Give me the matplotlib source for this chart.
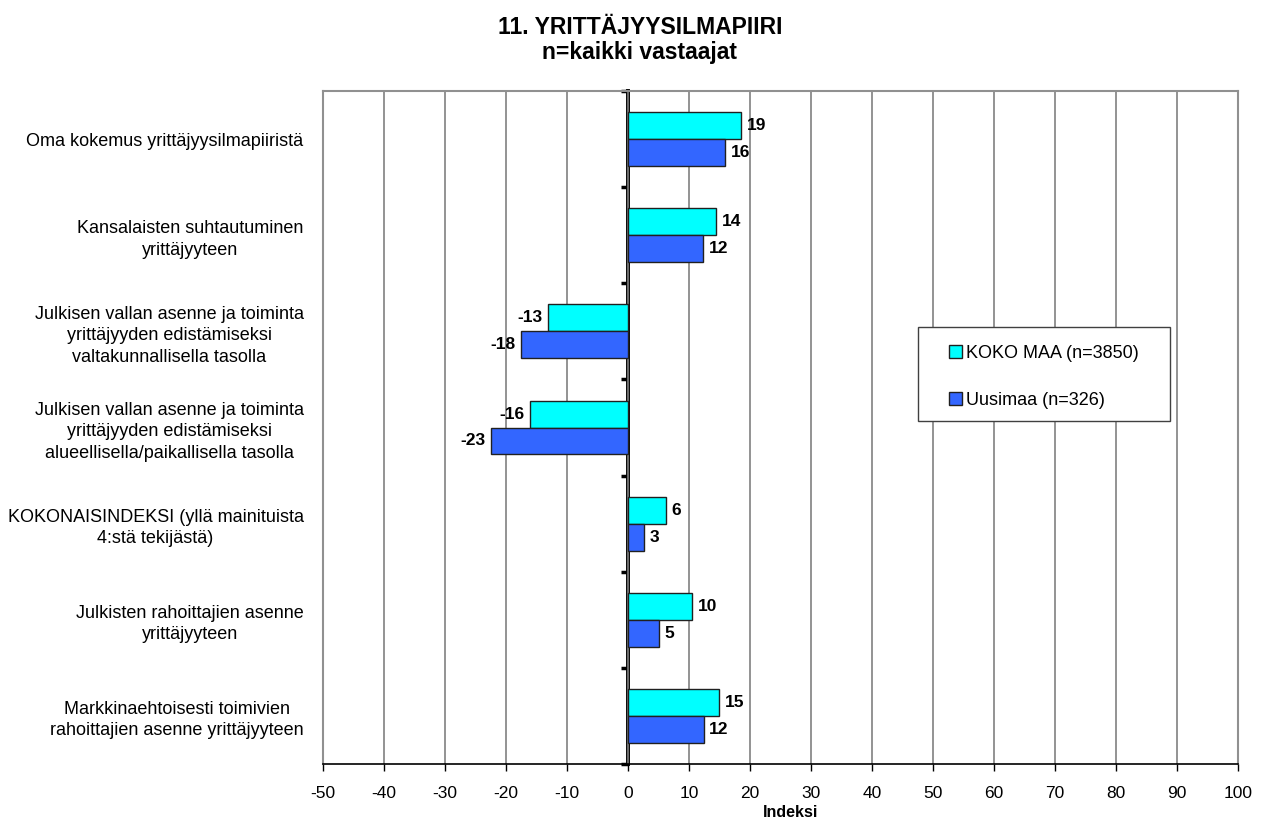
import matplotlib.pyplot as plt
import matplotlib.patches as mpatches
import numpy as np

plt.rcParams['font.family'] = ['Liberation Sans', 'DejaVu Sans']
plt.rcParams['axes.unicode_minus'] = False

categories = [
    "Oma kokemus yrittäjyysilmapiiristä",
    "Kansalaisten suhtautuminen\nyrittäjyyteen",
    "Julkisen vallan asenne ja toiminta\nyrittäjyyden edistämiseksi\nvaltakunnallisella tasolla",
    "Julkisen vallan asenne ja toiminta\nyrittäjyyden edistämiseksi\nalueellisella/paikallisella tasolla",
    "KOKONAISINDEKSI (yllä mainituista\n4:stä tekijästä)",
    "Julkisten rahoittajien asenne\nyrittäjyyteen",
    "Markkinaehtoisesti toimivien\nrahoittajien asenne yrittäjyyteen",
]
koko_maa = [18.6, 14.4, -13.1, -16.1, 6.2, 10.5, 14.9]
uusimaa = [15.9, 12.3, -17.5, -22.4, 2.6, 5.1, 12.4]
koko_labels = ["19", "14", "-13", "-16", "6", "10", "15"]
uusi_labels = ["16", "12", "-18", "-23", "3", "5", "12"]
series_names = ["KOKO MAA (n=3850)", "Uusimaa (n=326)"]

W, H = 1267, 821
fig = plt.figure(figsize=(W / 100, H / 100), dpi=100)
ax = fig.add_axes([323 / W, 1 - 764 / H, (1238 - 323) / W, (764 - 91) / H])

y = np.arange(len(categories))
h = 0.28
b1 = ax.barh(y - h / 2, koko_maa, height=h, color="#00ffff", edgecolor="#202020",
             linewidth=1, label=series_names[0], zorder=3)
b2 = ax.barh(y + h / 2, uusimaa, height=h, color="#3366ff", edgecolor="#202020",
             linewidth=1, label=series_names[1], zorder=3)

for bars, labels in ((b1, koko_labels), (b2, uusi_labels)):
    for bar, lab in zip(bars, labels):
        w = bar.get_width()
        cy = bar.get_y() + bar.get_height() / 2
        ax.annotate(lab, (w, cy), xytext=(4 if w >= 0 else -4, 0),
                    textcoords="offset points", ha="left" if w >= 0 else "right",
                    va="center", fontsize=12.5, fontweight="bold", zorder=4)

ax.set_xlim(-50, 100)
ax.set_ylim(len(categories) - 0.5, -0.5)
ax.set_xticks(np.arange(-50, 101, 10))
ax.tick_params(axis="x", labelsize=12.5, length=5, width=1, color="black", pad=11)
ax.grid(axis="x", color="#808080", linewidth=1.2, zorder=0)

ax.set_yticks(y)
ax.set_yticklabels(categories, fontsize=13, linespacing=1.35, multialignment="center")
ax.tick_params(axis="y", length=0, pad=14)

for s in ("top", "right", "left"):
    ax.spines[s].set_color("#909090")
    ax.spines[s].set_linewidth(1.5)
ax.spines["bottom"].set_color("black")
ax.spines["bottom"].set_linewidth(1.2)

# zero axis with category separator ticks
zax = ax.secondary_yaxis(50 / 150)
zax.set_yticks(np.arange(len(categories) + 1) - 0.5)
zax.set_yticklabels([])
zax.tick_params(length=5, width=2.5, direction="out", color="black")
zax.spines["left"].set_linewidth(2.8)
zax.spines["left"].set_color("black")

ax.set_xlabel("Indeksi", fontsize=11.5, fontweight="bold")
ax.xaxis.set_label_coords((791 - 323) / 915, (764 - 805) / 673)

fig.text(640 / W, 1 - 28 / H, "11. YRITTÄJYYSILMAPIIRI", ha="center", va="center",
         fontsize=16.5, fontweight="bold")
fig.text(640 / W, 1 - 53 / H, "n=kaikki vastaajat", ha="center", va="center",
         fontsize=16.5, fontweight="bold")

# legend box
box = mpatches.Rectangle((918 / W, 1 - 421 / H), (1170 - 918) / W, (421 - 327) / H,
                         transform=fig.transFigure, facecolor="white",
                         edgecolor="#404040", linewidth=1, zorder=6, clip_on=False)
ax.add_patch(box)
leg = ax.legend(loc="upper left", bbox_to_anchor=(949 / W, 1 - 345 / H),
                bbox_transform=fig.transFigure, fontsize=13, frameon=False,
                handlelength=0.7, handleheight=0.7, handletextpad=0.25,
                labelspacing=1.65, borderpad=0, borderaxespad=0)
leg.set_zorder(7)

fig.savefig("out.png", dpi=100)
